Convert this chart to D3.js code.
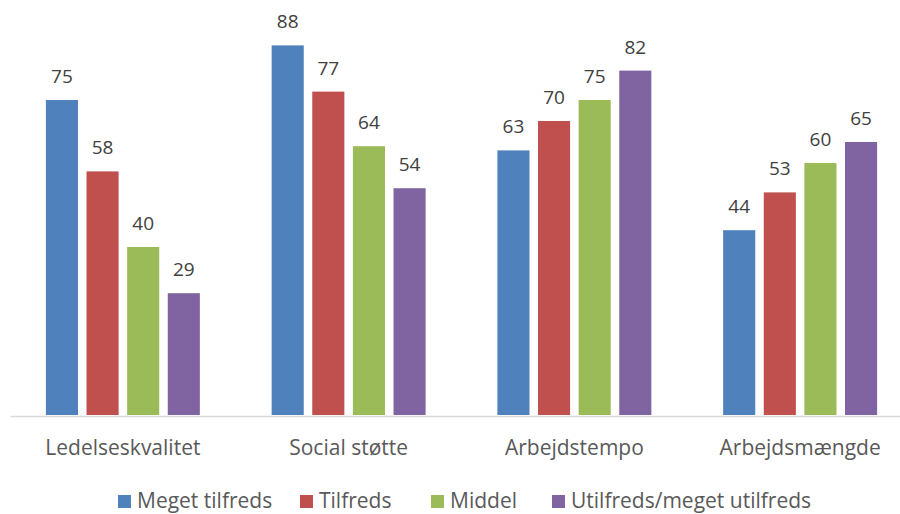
<!DOCTYPE html>
<html>
<head>
<meta charset="utf-8">
<script src="https://cdn.jsdelivr.net/npm/d3@7"></script>
<style>
  html, body { margin: 0; padding: 0; background: #fff; }
  svg { display: block; font-family: "Open Sans", Lato, sans-serif; }
</style>
</head>
<body>
<svg id="chart" width="900" height="514"></svg>
<script>
const categories = ["Ledelseskvalitet", "Social støtte", "Arbejdstempo", "Arbejdsmængde"];
const seriesNames = ["Meget tilfreds", "Tilfreds", "Middel", "Utilfreds/meget utilfreds"];
const seriesColors = ["#4f81bd", "#c0504d", "#9bbb59", "#8064a2"];
const megetTilfreds = [75, 88, 63, 44];
const tilfreds = [58, 77, 70, 53];
const middel = [40, 64, 75, 60];
const utilfreds = [29, 54, 82, 65];
const seriesValues = [megetTilfreds, tilfreds, middel, utilfreds];

const svg = d3.select("#chart");
const baseY = 415;
const fontFamily = "'Open Sans', Lato, sans-serif";

const x0 = d3.scaleBand().domain(categories).range([10, 913])
  .paddingInner(0.318).paddingOuter(0.159);
const x1 = d3.scaleBand().domain(seriesNames).range([0, x0.bandwidth()])
  .paddingInner(0.21);
const y = d3.scaleLinear().domain([0, 100]).range([baseY, -5]);

const groups = svg.append("g").selectAll("g")
  .data(categories)
  .join("g")
  .attr("transform", d => `translate(${x0(d)},0)`);

groups.each(function (c, ci) {
  const g = d3.select(this);
  const data = seriesNames.map((s, si) => ({ s, si, v: seriesValues[si][ci] }));
  g.selectAll("rect").data(data).join("rect")
    .attr("x", d => x1(d.s))
    .attr("y", d => y(d.v))
    .attr("width", x1.bandwidth())
    .attr("height", d => y(0) - y(d.v))
    .attr("fill", d => seriesColors[d.si]);
  g.selectAll("text").data(data).join("text")
    .attr("x", d => x1(d.s) + x1.bandwidth() / 2)
    .attr("y", d => y(d.v) - 17)
    .attr("text-anchor", "middle")
    .attr("font-size", 19)
    .attr("fill", "#404040")
    .text(d => d.v);
});

// category axis
const xAxis = svg.append("g").attr("transform", `translate(0,${baseY + 1})`)
  .call(d3.axisBottom(x0).tickSize(0).tickPadding(0));
xAxis.select(".domain").attr("stroke", "#d9d9d9").attr("stroke-width", 1.5);
xAxis.selectAll(".tick text")
  .attr("y", 39)
  .attr("dy", 0)
  .attr("font-size", 21)
  .attr("fill", "#595959")
  .attr("font-family", fontFamily);

// legend
const legendX = [118, 300, 431, 552];
const legend = svg.append("g").selectAll("g")
  .data(seriesNames)
  .join("g")
  .attr("transform", (d, i) => `translate(${legendX[i]},508)`);
legend.append("rect")
  .attr("x", 0).attr("y", -13)
  .attr("width", 13).attr("height", 13)
  .attr("fill", (d, i) => seriesColors[i]);
legend.append("text")
  .attr("x", 19).attr("y", 0)
  .attr("font-size", 21)
  .attr("fill", "#595959")
  .text(d => d);
</script>
</body>
</html>
